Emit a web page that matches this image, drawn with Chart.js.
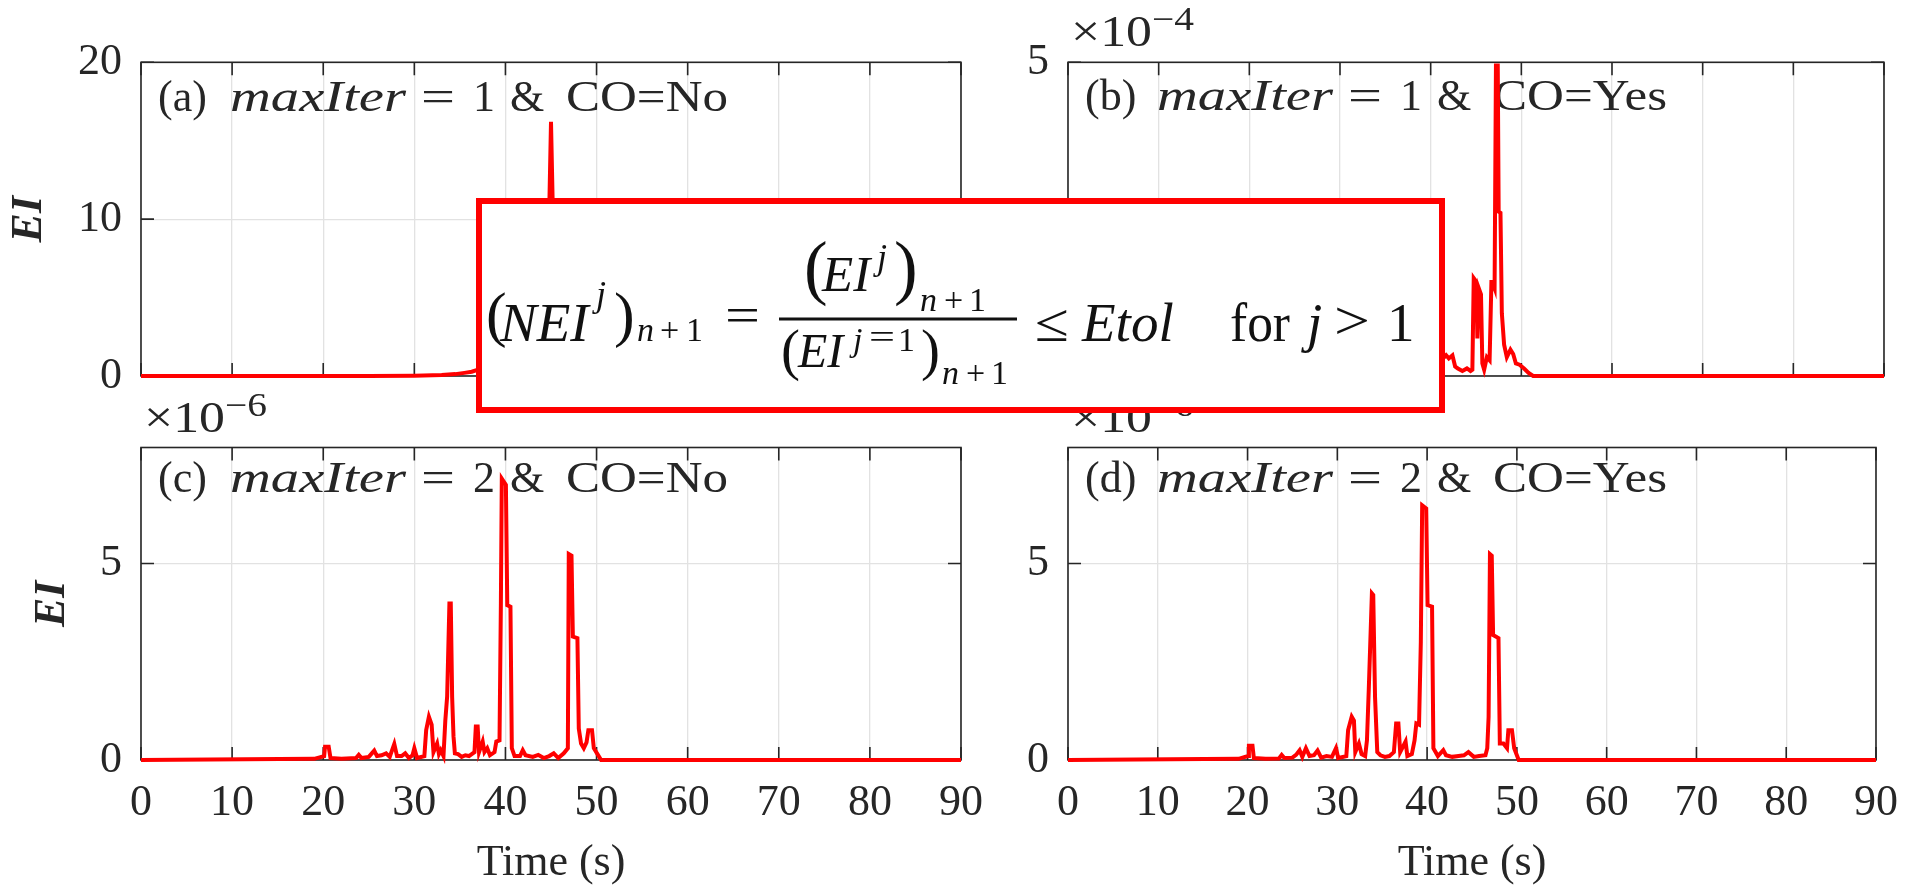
<!DOCTYPE html>
<html>
<head>
<meta charset="utf-8">
<title>EI history</title>
<script src="https://cdn.jsdelivr.net/npm/chart.js@4.4.1/dist/chart.umd.min.js"></script>
<style>
    html, body { margin: 0; padding: 0; background: #fff; }
    #wrap { position: relative; width: 1915px; height: 885px; overflow: hidden; }
    #wrap canvas { position: absolute; left: 0; top: 0; width: 1915px; height: 885px; }
</style>
</head>
<body>
<div id="wrap">
    <canvas id="panelA" width="1915" height="885"></canvas>
    <canvas id="panelB" width="1915" height="885"></canvas>
    <canvas id="panelC" width="1915" height="885"></canvas>
    <canvas id="panelD" width="1915" height="885"></canvas>
    <canvas id="formula" width="1915" height="885"></canvas>
</div>
<script>
// Data (time in s, EI in the units of each axis)
const xTicks = [0, 10, 20, 30, 40, 50, 60, 70, 80, 90];

// (a) maxIter = 1, CO = No  (EI, plain units)
const timeA = [0, 25, 30, 33, 34.5, 35.5, 36.3, 37, 38, 39.5, 40, 40.5, 41.5, 42, 43, 44, 44.6, 45.0, 45.4, 46,
    46.8, 47.3, 48, 49, 50, 51, 52, 90];
const eiA = [0, 0, 0.02, 0.06, 0.12, 0.2, 0.27, 0.4, 0.7, 1.2, 3.5, 1.8, 1.0, 1.6, 1.4, 2.5, 4.5, 16.2, 5.0, 2.4,
    3.0, 6.5, 2.8, 1.2, 0.6, 0.2, 0, 0];
const yTicksA = [0, 10, 20];

// (b) maxIter = 1, CO = Yes  (EI x 10^-4)
const timeB = [0, 19.5, 20.3, 20.8, 24, 26, 28, 30, 31.4, 31.8, 32.4, 33.6, 34.0, 34.4, 36.6, 36.9, 37.6, 39.2,
    39.6, 40.1, 40.5, 40.8, 41.7, 42.0, 42.4, 42.7, 43.0, 43.5, 44.0, 44.4, 44.6, 44.75, 45.05, 45.15, 45.3,
    45.55, 45.7, 45.9, 46.2, 46.5, 46.7, 46.8, 47.05, 47.2, 47.4, 47.5, 47.7, 47.85, 48.1, 48.4, 48.8, 49.1,
    49.4, 49.8, 50.3, 50.8, 51.3, 90];
const eiB = [0, 0, 0.08, 0, 0.03, 0.06, 0.08, 0.1, 0.35, 0.2, 0.15, 0.9, 1.1, 0.2, 0.2, 0.3, 0.12, 0.4,
    1.4, 1.3, 0.5, 0.2, 0.33, 0.28, 0.33, 0.15, 0.12, 0.08, 0.12, 0.08, 0.1, 1.56, 1.5, 0.6, 1.40,
    1.3, 0.2, 0.1, 0.3, 0.25, 1.5, 1.5, 1.4, 4.95, 4.95, 2.62, 2.6, 1.0, 0.5, 0.3, 0.42, 0.35,
    0.2, 0.18, 0.12, 0.05, 0, 0];
const yTicksB = [0, 5];

// (c) maxIter = 2, CO = No  (EI x 10^-6)
const timeC = [0, 19.0, 20.1, 20.2, 20.6, 20.8, 22.0, 23.6, 23.9, 24.2, 25.0, 25.6, 25.9, 26.4, 26.9, 27.3,
    27.8, 28.1, 28.6, 29.0, 29.4, 29.8, 30.0, 30.3, 31.1, 31.3, 31.6, 31.9, 32.1, 32.5, 32.7, 32.9, 33.2,
    33.4, 33.6, 33.85, 34.0, 34.15, 34.3, 34.45, 34.8, 35.2, 35.6, 36.0, 36.6, 36.75, 36.95, 37.1, 37.5,
    37.7, 38.0, 38.3, 38.8, 39.0, 39.35, 39.5, 39.6, 40.05, 40.2, 40.55, 40.7, 41.0, 41.6, 41.9, 42.2,
    43.0, 43.6, 44.2, 44.8, 45.3, 45.8, 46.4, 46.85, 46.95, 47.25, 47.4, 47.9, 48.05, 48.3, 48.6, 48.9,
    49.1, 49.5, 49.7, 50.1, 50.5, 90];
const eiC = [0, 0.03, 0.1, 0.34, 0.34, 0.05, 0.03, 0.05, 0.13, 0.05, 0.08, 0.24, 0.1, 0.12, 0.17, 0.08,
    0.41, 0.1, 0.1, 0.17, 0.05, 0.12, 0.3, 0.05, 0.1, 0.76, 1.1, 0.9, 0.2, 0.42, 0.15, 0.25, 0.1,
    1.0, 1.61, 3.98, 3.98, 1.6, 0.6, 0.17, 0.15, 0.08, 0.12, 0.1, 0.2, 0.85, 0.85, 0.2, 0.47,
    0.2, 0.3, 0.12, 0.2, 0.47, 0.5, 4.0, 7.16, 7.0, 3.94, 3.9, 0.3, 0.1, 0.1, 0.25, 0.12,
    0.08, 0.13, 0.05, 0.1, 0.17, 0.05, 0.17, 0.3, 5.24, 5.2, 3.14, 3.1, 0.8, 0.42, 0.3, 0.45,
    0.76, 0.76, 0.3, 0.15, 0, 0];
const yTicksC = [0, 5];

// (d) maxIter = 2, CO = Yes  (EI x 10^-6)
const timeD = [0, 19.0, 20.05, 20.15, 20.55, 20.7, 22.0, 23.5, 23.8, 24.1, 25.0, 25.4, 25.8, 26.1, 26.5, 26.9,
    27.4, 27.8, 28.2, 28.8, 29.4, 29.85, 30.1, 31.0, 31.2, 31.6, 31.85, 32.0, 32.4, 32.7, 33.1, 33.3,
    33.5, 33.85, 34.0, 34.2, 34.45, 34.8, 35.3, 35.8, 36.3, 36.55, 36.8, 37.0, 37.6, 37.8, 38.3, 38.6,
    38.8, 39.1, 39.3, 39.45, 39.9, 40.05, 40.55, 40.7, 41.2, 41.8, 42.1, 42.8, 43.5, 44.1, 44.6, 45.2,
    45.8, 46.5, 46.7, 46.85, 47.0, 47.2, 47.35, 47.95, 48.1, 48.5, 48.9, 49.05, 49.45, 49.7, 50.2, 90];
const eiD = [0, 0.03, 0.1, 0.36, 0.36, 0.05, 0.03, 0.04, 0.13, 0.05, 0.06, 0.13, 0.25, 0.08, 0.3, 0.1,
    0.12, 0.24, 0.06, 0.1, 0.08, 0.3, 0.05, 0.1, 0.76, 1.1, 1.0, 0.2, 0.42, 0.15, 0.1, 0.5,
    1.78, 4.24, 4.2, 1.6, 0.2, 0.12, 0.08, 0.1, 0.2, 0.93, 0.93, 0.2, 0.47, 0.1, 0.15, 0.5,
    0.93, 0.9, 3.0, 6.48, 6.4, 3.94, 3.9, 0.3, 0.1, 0.25, 0.12, 0.08, 0.1, 0.12, 0.2, 0.08,
    0.1, 0.12, 0.3, 1.1, 5.24, 5.2, 3.18, 3.1, 0.42, 0.42, 0.3, 0.76, 0.76, 0.3, 0, 0];
const yTicksD = [0, 5];

// Look
const SERIF = '"Liberation Serif", "Times New Roman", serif';
const TEXT = '#262626';
const GRID = '#e2e2e2';
const RED = '#ff0000';
const TICK_LEN = 13;

Chart.defaults.font.family = SERIF;

// draw text, optionally squeezed/stretched to a given width
function drawSeg(ctx, text, x, y, font, w) {
    ctx.font = font;
    if (!w) {
        ctx.fillText(text, x, y);
        return;
    }
    const m = ctx.measureText(text).width;
    ctx.save();
    ctx.translate(x, y);
    ctx.scale(w / m, 1);
    ctx.fillText(text, 0, 0);
    ctx.restore();
}

// MATLAB-like box, inward ticks, panel caption and exponent
function decorPlugin(opt) {
    return {
        id: 'decor',
        beforeDatasetsDraw(chart) {
            const {ctx, chartArea: a, scales: {x, y}} = chart;
            ctx.save();
            ctx.strokeStyle = TEXT;
            ctx.lineWidth = 1.6;
            ctx.strokeRect(a.left, a.top, a.right - a.left, a.bottom - a.top);
            ctx.beginPath();
            x.ticks.forEach(t => {
                const px = x.getPixelForValue(t.value);
                ctx.moveTo(px, a.bottom); ctx.lineTo(px, a.bottom - TICK_LEN);
                ctx.moveTo(px, a.top); ctx.lineTo(px, a.top + TICK_LEN);
            });
            y.ticks.forEach(t => {
                const py = y.getPixelForValue(t.value);
                ctx.moveTo(a.left, py); ctx.lineTo(a.left + TICK_LEN, py);
                ctx.moveTo(a.right, py); ctx.lineTo(a.right - TICK_LEN, py);
            });
            ctx.stroke();

            // caption like "(a) maxIter = 1 & CO=No"
            ctx.fillStyle = TEXT;
            ctx.textBaseline = 'alphabetic';
            ctx.textAlign = 'left';
            const by = a.top + opt.captionDy;
            const L = a.left;
            const f = '44px ' + SERIF;
            drawSeg(ctx, opt.tag, L + 17, by, f);
            drawSeg(ctx, 'maxIter', L + 89, by, 'italic 44px ' + SERIF, 176);
            drawSeg(ctx, '=', L + 280, by, f, 34);
            drawSeg(ctx, opt.iter, L + 332, by, f);
            drawSeg(ctx, '&', L + 369, by, f);
            drawSeg(ctx, 'CO=' + opt.co, L + 425, by, f, opt.co === 'No' ? 162 : 174);

            // axis exponent like "x10^-4"
            if (opt.exp) {
                const ey = a.top - 16;
                drawSeg(ctx, '\u00d710', L + 3, ey, f, 81);
                drawSeg(ctx, '\u2212' + opt.exp, L + 84, ey - 16, '33px ' + SERIF, 42);
            }
            ctx.restore();
        }
    };
}

function makePanel(id, opt) {
    const a = opt.area;
    const yw = opt.yTitleLeft != null ? a.l - opt.yTitleLeft : 60;
    const xh = opt.showX ? 885 - a.b : 0;
    const points = opt.times.map((t, i) => ({x: t, y: opt.values[i]}));

    return new Chart(document.getElementById(id), {
        type: 'line',
        data: {
            datasets: [{
                data: points,
                borderColor: RED,
                borderWidth: 4,
                pointRadius: 0,
                tension: 0,
                fill: false,
                clip: 4
            }]
        },
        options: {
            responsive: false,
            animation: false,
            events: [],
            layout: {
                padding: {left: a.l - yw, top: a.t, right: 1915 - a.r, bottom: 885 - a.b - xh}
            },
            plugins: {legend: {display: false}, tooltip: {enabled: false}},
            scales: {
                x: {
                    type: 'linear',
                    min: 0,
                    max: 90,
                    afterFit: s => { s.height = xh; },
                    afterBuildTicks: s => { s.ticks = xTicks.map(v => ({value: v})); },
                    ticks: {display: opt.showX, font: {size: 44}, color: TEXT, padding: 17, maxRotation: 0},
                    grid: {color: GRID, lineWidth: 1.3, drawTicks: false},
                    border: {display: false},
                    title: {
                        display: opt.showX,
                        text: 'Time (s)',
                        font: {size: 44, lineHeight: 1},
                        color: TEXT,
                        padding: 0
                    }
                },
                y: {
                    min: 0,
                    max: opt.yMax,
                    afterFit: s => { s.width = yw; },
                    afterBuildTicks: s => { s.ticks = opt.yTicks.map(v => ({value: v})); },
                    ticks: {font: {size: 44}, color: TEXT, padding: 19},
                    grid: {color: GRID, lineWidth: 1.3, drawTicks: false},
                    border: {display: false},
                    title: {
                        display: opt.yTitleLeft != null,
                        text: 'EI',
                        font: {size: 44, style: 'italic', weight: 'bold', lineHeight: 1},
                        color: TEXT,
                        padding: 0
                    }
                }
            }
        },
        plugins: [decorPlugin(opt)]
    });
}

makePanel('panelA', {
    times: timeA, values: eiA, yTicks: yTicksA, yMax: 20,
    area: {l: 141, t: 62.3, r: 961, b: 376},
    showX: false, yTitleLeft: 8, captionDy: 49,
    tag: '(a)', iter: '1', co: 'No', exp: null
});
makePanel('panelB', {
    times: timeB, values: eiB, yTicks: yTicksB, yMax: 5,
    area: {l: 1068, t: 62.3, r: 1884, b: 376},
    showX: false, yTitleLeft: null, captionDy: 48,
    tag: '(b)', iter: '1', co: 'Yes', exp: '4'
});
makePanel('panelC', {
    times: timeC, values: eiC, yTicks: yTicksC, yMax: 7.95,
    area: {l: 141, t: 447.5, r: 961, b: 760},
    showX: true, yTitleLeft: 31, captionDy: 44,
    tag: '(c)', iter: '2', co: 'No', exp: '6'
});
makePanel('panelD', {
    times: timeD, values: eiD, yTicks: yTicksD, yMax: 7.95,
    area: {l: 1068, t: 447.5, r: 1884, b: 760},
    showX: true, yTitleLeft: null, captionDy: 44,
    tag: '(d)', iter: '2', co: 'Yes', exp: '6'
});

// Formula box laid over the panels
// [text, x, baseline, size, italic, fit width]
const eqTokens = [
    ['(', 486, 335, 62, false],
    ['NEI', 500, 341, 55, true],
    ['j', 596, 306, 36, true],
    [')', 614, 335, 62, false],
    ['n', 637, 341, 34, true],
    ['+', 660, 341, 34, false],
    ['1', 686, 341, 34, false],
    ['=', 725, 332, 50, false, 35],
    ['(', 804, 291, 71, false],
    ['EI', 822, 291, 51, true],
    ['j', 877, 269, 36, true],
    [')', 894, 291, 71, false],
    ['n', 920, 311, 34, true],
    ['+', 944, 311, 34, false],
    ['1', 969, 311, 34, false],
    ['(', 781, 369, 57, false],
    ['EI', 798, 367, 48, true],
    ['j', 853, 351, 34, true],
    ['=', 869, 348, 34, false, 26],
    ['1', 898, 351, 34, false],
    [')', 921, 369, 57, false],
    ['n', 942, 384, 34, true],
    ['+', 966, 384, 34, false],
    ['1', 991, 384, 34, false],
    ['\u2264', 1035, 341, 54, false, 34],
    ['Etol', 1082, 341, 55, true],
    ['for', 1230, 341, 55, false, 60],
    ['j', 1307, 341, 55, true],
    ['>', 1334, 339, 55, false, 36],
    ['1', 1387, 341, 55, false]
];

function drawFormula() {
    const ctx = document.getElementById('formula').getContext('2d');
    ctx.fillStyle = '#fff';
    ctx.fillRect(476, 198, 969, 215);
    ctx.strokeStyle = RED;
    ctx.lineWidth = 6;
    ctx.strokeRect(479, 201, 963, 209);

    ctx.fillStyle = '#111';
    ctx.textBaseline = 'alphabetic';
    eqTokens.forEach(([txt, x, base, size, italic, w]) => {
        const font = (italic ? 'italic ' : '') + size + 'px ' + SERIF;
        drawSeg(ctx, txt, x, base, font, w);
    });
    // fraction bar
    ctx.fillRect(779, 317.5, 238, 3);
}

drawFormula();
</script>
</body>
</html>
